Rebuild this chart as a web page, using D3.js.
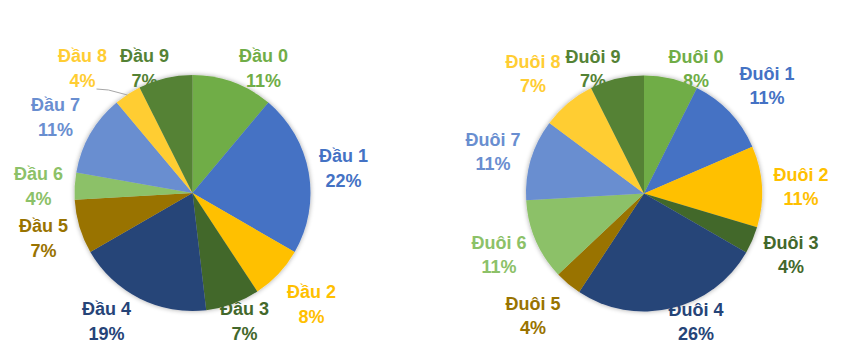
<!DOCTYPE html>
<html><head><meta charset="utf-8">
<script src="https://cdn.jsdelivr.net/npm/d3@7"></script>
<style>html,body{margin:0;padding:0;background:#fff}svg{display:block}</style>
</head><body>
<script>
// ---- data ----
const dauCategories = ["Đầu 0","Đầu 1","Đầu 2","Đầu 3","Đầu 4","Đầu 5","Đầu 6","Đầu 7","Đầu 8","Đầu 9"];
const dauValues     = [3, 6, 2, 2, 5, 2, 1, 3, 1, 2];
const dauPercent    = ["11%","22%","8%","7%","19%","7%","4%","11%","4%","7%"];

const duoiCategories = ["Đuôi 0","Đuôi 1","Đuôi 2","Đuôi 3","Đuôi 4","Đuôi 5","Đuôi 6","Đuôi 7","Đuôi 8","Đuôi 9"];
const duoiValues     = [2, 3, 3, 1, 7, 1, 3, 3, 2, 2];
const duoiPercent    = ["8%","11%","11%","4%","26%","4%","11%","11%","7%","7%"];

const palette = ["#70AD47","#4472C4","#FFC000","#43682B","#264478","#997300","#8CC168","#698ED0","#FFCD33","#548235"];

// ---- layout (label anchors relative to pie centre: [centre x, first baseline]) ----
const dauLabelPos = [[71,-131],[151,-31],[119,105],[52,122],[-86,122],[-149,39],[-154,-13],[-137,-82],[-110,-131],[-48,-131]];
const duoiLabelPos = [[52,-131],[123,-114],[157,-13],[147,55],[52,122],[-111,116],[-145,55],[-151,-48],[-111,-126],[-51,-131]];

const W = 847, H = 359, R = 118;
const svg = d3.select("body").append("svg").attr("width", W).attr("height", H);

const defs = svg.append("defs");
const f = defs.append("filter").attr("id","sh").attr("x","-20%").attr("y","-20%").attr("width","140%").attr("height","140%");
f.append("feGaussianBlur").attr("in","SourceAlpha").attr("stdDeviation",2.5).attr("result","b");
f.append("feOffset").attr("in","b").attr("dx",0).attr("dy",0).attr("result","o");
f.append("feComponentTransfer").attr("in","o").attr("result","o2").append("feFuncA").attr("type","linear").attr("slope",0.35);
const m = f.append("feMerge"); m.append("feMergeNode").attr("in","o2"); m.append("feMergeNode").attr("in","SourceGraphic");

const pie = d3.pie().sort(null).value(d => d);
const arc = d3.arc().innerRadius(0).outerRadius(R);
const color = d3.scaleOrdinal().domain(d3.range(10)).range(palette);

function drawPie(cx, cy, cats, vals, pcts, lpos, leader) {
  const g = svg.append("g").attr("transform", `translate(${cx},${cy})`);
  const arcs = pie(vals);
  const pg = g.append("g").attr("filter","url(#sh)");
  pg.selectAll("path").data(arcs).join("path")
    .attr("d", arc).attr("fill", (d,i) => color(i));
  if (leader) {
    g.append("path").attr("d", d3.line()(leader))
      .attr("fill","none").attr("stroke","#a6a6a6").attr("stroke-width",1);
  }
  const lg = g.append("g").attr("font-family","'Liberation Sans', Arial, sans-serif")
    .attr("font-weight","bold").attr("font-size",18).attr("text-anchor","middle");
  cats.forEach((c,i) => {
    const t = lg.append("text").attr("fill", color(i))
      .attr("transform", `translate(${lpos[i][0]},${lpos[i][1]})`);
    t.append("tspan").attr("x",0).attr("y",0).text(c);
    t.append("tspan").attr("x",0).attr("y",24.5).text(pcts[i]);
  });
}

drawPie(192.5, 193, dauCategories, dauValues, dauPercent, dauLabelPos, [[-96,-104],[-84,-103],[-65,-98]]);
drawPie(644, 193.5, duoiCategories, duoiValues, duoiPercent, duoiLabelPos, null);
</script>
</body></html>
